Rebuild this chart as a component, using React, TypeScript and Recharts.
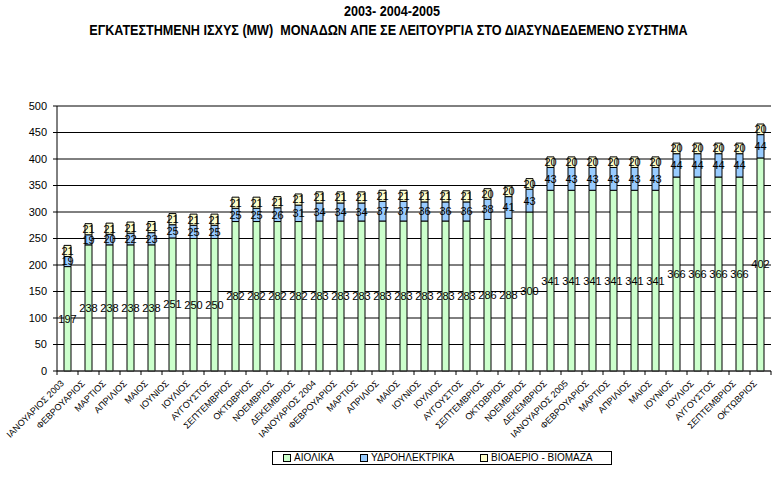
import React from "react";
import {
  BarChart,
  Bar,
  XAxis,
  YAxis,
  CartesianGrid,
  LabelList,
  ReferenceLine,
} from "recharts";

const categories: string[] = [
  "ΙΑΝΟΥΑΡΙΟΣ 2003", "ΦΕΒΡΟΥΑΡΙΟΣ", "ΜΑΡΤΙΟΣ", "ΑΠΡΙΛΙΟΣ", "ΜΑΙΟΣ", "ΙΟΥΝΙΟΣ",
  "ΙΟΥΛΙΟΣ", "ΑΥΓΟΥΣΤΟΣ", "ΣΕΠΤΕΜΒΡΙΟΣ", "ΟΚΤΩΒΡΙΟΣ", "ΝΟΕΜΒΡΙΟΣ", "ΔΕΚΕΜΒΡΙΟΣ",
  "ΙΑΝΟΥΑΡΙΟΣ 2004", "ΦΕΒΡΟΥΑΡΙΟΣ", "ΜΑΡΤΙΟΣ", "ΑΠΡΙΛΙΟΣ", "ΜΑΙΟΣ", "ΙΟΥΝΙΟΣ",
  "ΙΟΥΛΙΟΣ", "ΑΥΓΟΥΣΤΟΣ", "ΣΕΠΤΕΜΒΡΙΟΣ", "ΟΚΤΩΒΡΙΟΣ", "ΝΟΕΜΒΡΙΟΣ", "ΔΕΚΕΜΒΡΙΟΣ",
  "ΙΑΝΟΥΑΡΙΟΣ 2005", "ΦΕΒΡΟΥΑΡΙΟΣ", "ΜΑΡΤΙΟΣ", "ΑΠΡΙΛΙΟΣ", "ΜΑΙΟΣ", "ΙΟΥΝΙΟΣ",
  "ΙΟΥΛΙΟΣ", "ΑΥΓΟΥΣΤΟΣ", "ΣΕΠΤΕΜΒΡΙΟΣ", "ΟΚΤΩΒΡΙΟΣ",
];

const aiolika: number[] = [
  197, 238, 238, 238, 238, 251, 250, 250, 282, 282, 282, 282,
  283, 283, 283, 283, 283, 283, 283, 283, 286, 288, 300, 341,
  341, 341, 341, 341, 341, 366, 366, 366, 366, 402,
];

const ydro: number[] = [
  19, 19, 20, 22, 23, 25, 25, 25, 25, 25, 26, 31,
  34, 34, 34, 37, 37, 36, 36, 36, 38, 41, 43, 43,
  43, 43, 43, 43, 43, 44, 44, 44, 44, 44,
];

const bio: number[] = [
  21, 21, 21, 21, 21, 21, 21, 21, 21, 21, 21, 21,
  21, 21, 21, 21, 21, 21, 21, 21, 20, 20, 20, 20,
  20, 20, 20, 20, 20, 20, 20, 20, 20, 20,
];

const yTicks: number[] = [0, 50, 100, 150, 200, 250, 300, 350, 400, 450, 500];

const seriesNames = ["ΑΙΟΛΙΚΑ", "ΥΔΡΟΗΛΕΚΤΡΙΚΑ", "ΒΙΟΑΕΡΙΟ - ΒΙΟΜΑΖΑ"];
const seriesColors = ["#CCFFCC", "#99CCFF", "#FFFFCC"];

const data = categories.map((c, i) => ({
  name: c,
  aiolika: aiolika[i],
  ydro: ydro[i],
  bio: bio[i],
}));

const W = 784;
const H = 478;
const M = { top: 106, right: 13, left: 7, bottom: 0 };
const Y_W = 50;
const plotW = W - M.left - Y_W - M.right;
const step = plotW / categories.length;

const FONT = "'Liberation Sans', Arial, sans-serif";

const XTick = (props: any) => {
  const { x, y, payload, index } = props;
  const idx = typeof index === "number" ? index : payload?.index ?? 0;
  const last = idx === categories.length - 1;
  const ax = x - 3;
  const ay = y + 13;
  return (
    <g>
      <line x1={x - step / 2} y1={y} x2={x - step / 2} y2={y + 4} stroke="#000" />
      {last && <line x1={x + step / 2} y1={y} x2={x + step / 2} y2={y + 4} stroke="#000" />}
      <text
        x={ax}
        y={ay}
        textAnchor="end"
        fontSize={9}
        fontFamily={FONT}
        fill="#000"
        transform={`rotate(-45, ${ax}, ${ay})`}
      >
        {payload.value}
      </text>
    </g>
  );
};

export default function App() {
  return (
    <div
      style={{
        position: "absolute",
        left: 0,
        top: 0,
        width: W,
        height: H,
        background: "#fff",
        overflow: "hidden",
      }}
    >
      <div
        style={{
          position: "absolute",
          top: 2,
          left: 0,
          width: W,
          textAlign: "center",
          fontFamily: FONT,
          fontWeight: "bold",
          fontSize: 14,
          lineHeight: "19px",
          color: "#000",
          transform: "scaleX(0.9)",
          transformOrigin: "392px 0",
        }}
      >
        <div>2003- 2004-2005</div>
        <div style={{ marginLeft: -8 }}>
          ΕΓΚΑΤΕΣΤΗΜΕΝΗ ΙΣΧΥΣ (MW)&nbsp; ΜΟΝΑΔΩΝ ΑΠΕ ΣΕ ΛΕΙΤΟΥΡΓΙΑ ΣΤΟ ΔΙΑΣΥΝΔΕΔΕΜΕΝΟ ΣΥΣΤΗΜΑ
        </div>
      </div>
      <BarChart width={W} height={H} data={data} margin={M}>
        <CartesianGrid vertical={false} stroke="#000" strokeOpacity={1} />
        <XAxis
          dataKey="name"
          interval={0}
          height={107}
          tickSize={0}
          tickMargin={0}
          tickLine={false}
          axisLine={{ stroke: "#404040" }}
          tick={<XTick />}
        />
        <YAxis
          domain={[0, 500]}
          ticks={yTicks}
          width={Y_W}
          tickSize={4}
          tickMargin={6}
          axisLine={{ stroke: "#000" }}
          tickLine={{ stroke: "#000" }}
          tick={{ fontSize: 11, fill: "#000", fontFamily: FONT }}
        />
        <YAxis
          yAxisId="r"
          orientation="right"
          width={0}
          domain={[0, 500]}
          tick={false}
          tickLine={false}
          axisLine={{ stroke: "#808080" }}
        />
        <ReferenceLine y={500} stroke="#808080" />
        <Bar dataKey="aiolika" stackId="a" fill={seriesColors[0]} stroke="#000" strokeWidth={1} barSize={7} isAnimationActive={false}>
          <LabelList dataKey="aiolika" position="center" fill="#000" fontSize={11} fontFamily={FONT} />
        </Bar>
        <Bar dataKey="ydro" stackId="a" fill={seriesColors[1]} stroke="#000" strokeWidth={1} barSize={7} isAnimationActive={false}>
          <LabelList dataKey="ydro" position="center" fill="#000" fontSize={11} fontFamily={FONT} />
        </Bar>
        <Bar dataKey="bio" stackId="a" fill={seriesColors[2]} stroke="#000" strokeWidth={1} barSize={7} isAnimationActive={false}>
          <LabelList dataKey="bio" position="center" fill="#000" fontSize={11} fontFamily={FONT} />
        </Bar>
      </BarChart>
      <div
        style={{
          position: "absolute",
          left: 272,
          top: 451,
          width: 340,
          height: 14,
          border: "1px solid #000",
          boxSizing: "border-box",
          fontFamily: FONT,
          fontSize: 10,
          color: "#000",
        }}
      >
        {seriesNames.map((n, i) => (
          <div
            key={n}
            style={{
              position: "absolute",
              left: [10, 87, 207][i],
              top: 0,
              height: 12,
              lineHeight: "12px",
              whiteSpace: "nowrap",
              display: "flex",
              alignItems: "center",
            }}
          >
            <span
              style={{
                display: "inline-block",
                width: 6,
                height: 6,
                background: seriesColors[i],
                border: "1px solid #000",
                marginRight: 3,
              }}
            />
            {n}
          </div>
        ))}
      </div>
    </div>
  );
}
